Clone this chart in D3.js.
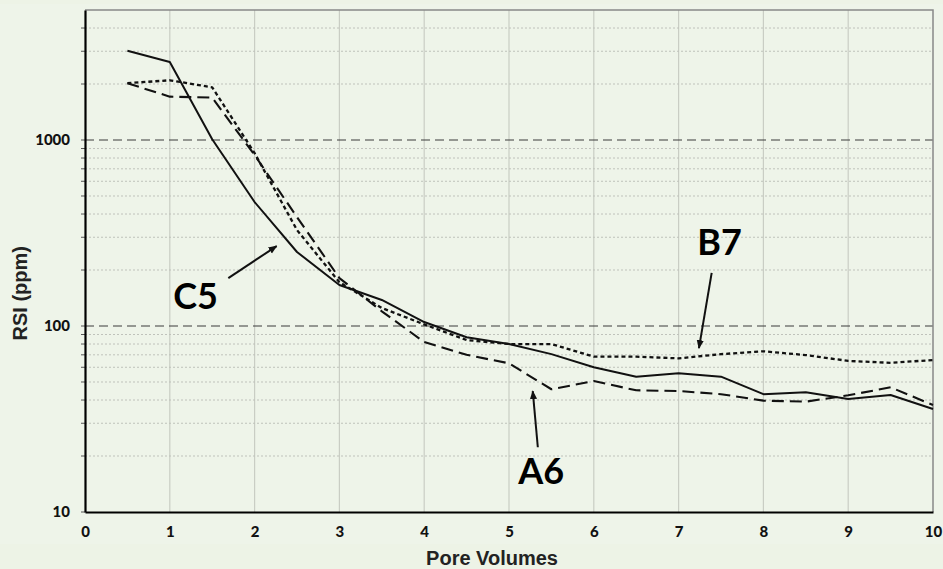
<!DOCTYPE html>
<html>
<head>
<meta charset="utf-8">
<script src="https://cdn.jsdelivr.net/npm/d3@7"></script>
<style>
  body { margin: 0; background: #edf3e6; }
  svg { display: block; }
  .tick-lbl { font-family: Lato, "Open Sans", sans-serif; font-weight: 900; font-size: 15px; fill: #111; }
  .ax-title { font-family: "Liberation Sans", Arial, sans-serif; font-weight: 700; font-size: 20px; fill: #222; }
  .note { font-family: Lato, "Open Sans", sans-serif; font-weight: 700; font-size: 36px; fill: #000; }
</style>
</head>
<body>
<svg width="943" height="569"></svg>
<script>
// pore volumes, every half volume
let pore_volumes = [0.5, 1, 1.5, 2, 2.5, 3, 3.5, 4, 4.5, 5, 5.5, 6, 6.5, 7, 7.5, 8, 8.5, 9, 9.5, 10]

// RSI (ppm)
let c5 = [3020, 2625, 1010, 464, 250, 166, 138, 105, 87, 80, 70.6, 60, 53.4, 55.7, 53.4, 43, 44, 40.5, 42.6, 35.8]
let b7 = [2020, 2095, 1920, 850, 328, 172, 125, 102, 84, 80, 80, 68.4, 68.4, 67, 70.6, 73.1, 69.8, 64.9, 63.4, 65.6]
let a6 = [2020, 1710, 1690, 830, 385, 181, 120, 82, 70, 63, 45.7, 50.6, 45.1, 44.7, 43, 39.7, 39.2, 42.4, 46.8, 37.6]

let x_ticks = [0, 1, 2, 3, 4, 5, 6, 7, 8, 9, 10]
let y_major = [10, 100, 1000]
let y_minor = [20, 30, 40, 50, 60, 70, 80, 90, 200, 300, 400, 500, 600, 700, 800, 900, 2000, 3000, 4000]

// labels and arrows, in data units
let notes = [
  {label: "C5", x: 1.04, y: 123, from: [1.69, 181], to: [2.26, 269]},
  {label: "B7", x: 7.22, y: 241, from: [7.39, 193], to: [7.24, 76]},
  {label: "A6", x: 5.11, y: 14.1, from: [5.34, 22.3], to: [5.28, 44.7]}
]

let series = [
  {name: "C5", values: c5, dash: null, width: 2},
  {name: "B7", values: b7, dash: "4,3", width: 2.3},
  {name: "A6", values: a6, dash: "12,6", width: 2.1}
]

let margin = {top: 10, right: 10, bottom: 57, left: 85},
    width = 943 - margin.left - margin.right,
    height = 569 - margin.top - margin.bottom

let svg = d3.select("svg")

svg.append("rect")
  .attr("x", 0).attr("y", 4).attr("width", 943).attr("height", 540)
  .attr("fill", "#eef4e9")

let g = svg.append("g").attr("transform", `translate(${margin.left},${margin.top})`)

let x = d3.scaleLinear().domain([0, 10]).range([0, width])
let y = d3.scaleLog().domain([10, 5000]).range([height, 0])

// vertical grid
g.selectAll(".vgrid").data(x_ticks.slice(1, -1)).enter()
  .append("line")
  .attr("x1", d => x(d)).attr("x2", d => x(d))
  .attr("y1", 0).attr("y2", height)
  .attr("stroke", "#c9cdc4").attr("stroke-width", 1.2)

// minor horizontal grid
g.selectAll(".minor").data(y_minor).enter()
  .append("line")
  .attr("x1", 0).attr("x2", width)
  .attr("y1", d => y(d)).attr("y2", d => y(d))
  .attr("stroke", "#bfc2bb").attr("stroke-width", 1)
  .attr("stroke-dasharray", "2,2")

// major horizontal grid
g.selectAll(".major").data(y_major.slice(1)).enter()
  .append("line")
  .attr("x1", 0).attr("x2", width)
  .attr("y1", d => y(d)).attr("y2", d => y(d))
  .attr("stroke", "#3a3a3a").attr("stroke-width", 1)
  .attr("stroke-dasharray", "9,5")

// frame top/right
g.append("path")
  .attr("d", `M0,0H${width}V${height}`)
  .attr("fill", "none").attr("stroke", "#888").attr("stroke-width", 1.5)

// small ticks on the left
g.selectAll(".ytick").data(y_minor.concat(y_major)).enter()
  .append("line")
  .attr("x1", -4).attr("x2", 0)
  .attr("y1", d => y(d)).attr("y2", d => y(d))
  .attr("stroke", "#555").attr("stroke-width", 1)

// lines
let line = d3.line()
  .x((d, i) => x(pore_volumes[i]))
  .y(d => y(d))

g.selectAll(".series").data(series).enter()
  .append("path")
  .attr("d", d => line(d.values))
  .attr("fill", "none")
  .attr("stroke", "#111")
  .attr("stroke-width", d => d.width)
  .attr("stroke-dasharray", d => d.dash)
  .attr("stroke-linejoin", "round")

// axes
let x_axis = d3.axisBottom(x).tickValues(x_ticks).tickSize(0).tickPadding(14).tickFormat(d3.format("d"))
let y_axis = d3.axisLeft(y).tickValues(y_major).tickSize(0).tickPadding(15).tickFormat(d3.format("d"))

let gx = g.append("g").attr("transform", `translate(0,${height})`).call(x_axis)
let gy = g.append("g").call(y_axis)
gx.select(".domain").attr("stroke", "#000").attr("stroke-width", 2.2)
gy.select(".domain").attr("stroke", "#000").attr("stroke-width", 2.2)
gx.selectAll("text").attr("class", "tick-lbl").attr("font-family", null).attr("font-size", null)
gy.selectAll("text").attr("class", "tick-lbl").attr("font-family", null).attr("font-size", null)

// axis titles
svg.append("text").attr("class", "ax-title")
  .attr("x", margin.left + x(4.8)).attr("y", 565)
  .attr("text-anchor", "middle").text("Pore Volumes")

svg.append("text").attr("class", "ax-title")
  .attr("transform", `translate(27,${margin.top + y(150)}) rotate(-90)`)
  .attr("text-anchor", "middle").text("RSI (ppm)")

// arrows and labels
svg.append("defs").append("marker")
  .attr("id", "head").attr("viewBox", "0 0 10 10")
  .attr("refX", 9).attr("refY", 5)
  .attr("markerWidth", 9).attr("markerHeight", 9)
  .attr("markerUnits", "userSpaceOnUse")
  .attr("orient", "auto")
  .append("path").attr("d", "M0,1L10,5L0,9Z").attr("fill", "#111")

g.selectAll(".arrow").data(notes).enter()
  .append("line")
  .attr("x1", d => x(d.from[0])).attr("y1", d => y(d.from[1]))
  .attr("x2", d => x(d.to[0])).attr("y2", d => y(d.to[1]))
  .attr("stroke", "#111").attr("stroke-width", 2)
  .attr("marker-end", "url(#head)")

g.selectAll(".note").data(notes).enter()
  .append("text")
  .attr("class", "note")
  .attr("x", d => x(d.x)).attr("y", d => y(d.y))
  .text(d => d.label)
</script>
</body>
</html>
